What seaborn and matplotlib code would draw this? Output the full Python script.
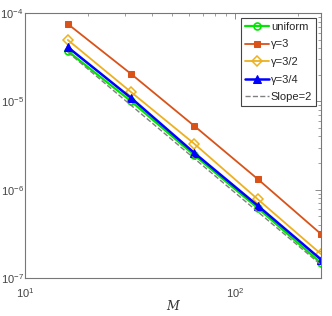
import numpy as np
import pandas as pd
import matplotlib
matplotlib.use("Agg")
import matplotlib.pyplot as plt
import seaborn as sns

M = [16, 32, 64, 128, 256]
uniform = [3.7e-5, 1.0e-5, 2.45e-6, 6.2e-7, 1.48e-7]
gamma3 = [7.5e-5, 2.04e-5, 5.25e-6, 1.32e-6, 3.15e-7]
gamma32 = [4.95e-5, 1.27e-5, 3.3e-6, 7.8e-7, 1.87e-7]
gamma34 = [4.1e-5, 1.09e-5, 2.6e-6, 6.6e-7, 1.62e-7]
slope2 = [3.6e-5, 9.0e-6, 2.25e-6, 5.63e-7, 1.41e-7]

labels = ["uniform", "γ=3", "γ=3/2", "γ=3/4", "Slope=2"]

sns.set_theme(style="white")
plt.rcParams['font.family'] = ['Liberation Sans', 'DejaVu Sans']
plt.rcParams['mathtext.fontset'] = 'custom'
plt.rcParams['mathtext.rm'] = 'Liberation Sans'
plt.rcParams['mathtext.it'] = 'Liberation Sans:italic'

fig = plt.figure(figsize=(3.32, 3.16), dpi=100)
ax = fig.add_axes([0.075, 0.120, 0.892, 0.839])

G, R, O, B = "#00e600", "#D95319", "#EDB120", "#0000FF"
series = [
    (uniform, labels[0], dict(color=G, marker="o", markerfacecolor="none", markeredgecolor=G,
                              markersize=5, lw=1.6, mew=1.2)),
    (gamma3, labels[1], dict(color=R, marker="s", markerfacecolor=R, markeredgecolor=R,
                             markersize=4, lw=1.3)),
    (gamma32, labels[2], dict(color=O, marker="D", markerfacecolor="none", markeredgecolor=O,
                              markersize=5, lw=1.3, mew=1.1)),
    (gamma34, labels[3], dict(color=B, marker="^", markerfacecolor=B, markeredgecolor=B,
                              markersize=5.5, lw=1.8)),
]
for vals, lab, kw in series:
    df = pd.DataFrame({"M": M, "err": vals})
    sns.lineplot(data=df, x="M", y="err", ax=ax, label=lab, **kw)
df = pd.DataFrame({"M": M, "err": slope2})
sns.lineplot(data=df, x="M", y="err", ax=ax, label=labels[4], color="#808080",
             linestyle="--", lw=1.0)

ax.set_xscale("log")
ax.set_yscale("log")
ax.set_xlim(10, 256)
ax.set_ylim(1e-7, 1e-4)
ax.set_xlabel("M", fontsize=9, family="DejaVu Serif", style="italic", color="#333333", labelpad=0)
ax.set_ylabel("")

for s in ax.spines.values():
    s.set_color("#777777")
    s.set_linewidth(0.8)
ax.tick_params(which="both", direction="in", top=True, right=True, colors="#777777",
               labelcolor="#444444", labelsize=8)
ax.tick_params(which="major", length=4, width=0.6)
ax.tick_params(which="minor", length=2, width=0.5)
ax.xaxis.set_minor_locator(matplotlib.ticker.LogLocator(base=10, subs=np.arange(2, 10)))
ax.yaxis.set_minor_locator(matplotlib.ticker.LogLocator(base=10, subs=np.arange(2, 10)))
ax.xaxis.set_minor_formatter(matplotlib.ticker.NullFormatter())
ax.yaxis.set_minor_formatter(matplotlib.ticker.NullFormatter())
ax.tick_params(axis="x", pad=6)
ax.tick_params(axis="y", pad=1)

leg = ax.legend(loc="upper right", fontsize=8, frameon=True, fancybox=False,
                edgecolor="#444444", framealpha=1, handlelength=2.1,
                handletextpad=0.2, borderpad=0.35, labelspacing=0.68,
                borderaxespad=0.45)
leg.get_frame().set_linewidth(0.8)

fig.savefig("out.png", dpi=100)
